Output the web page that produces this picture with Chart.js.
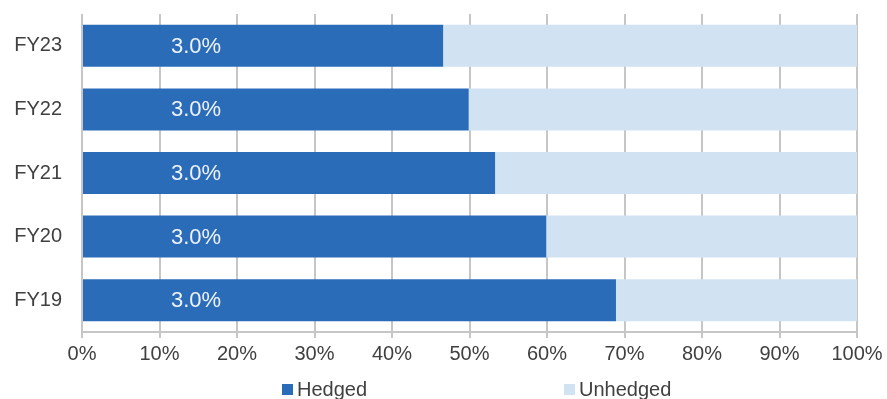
<!DOCTYPE html>
<html>
<head>
<meta charset="utf-8">
<script src="https://cdn.jsdelivr.net/npm/chart.js@4"></script>
<style>
html,body{margin:0;padding:0;background:#fff;}
#wrap{width:887px;height:399px;position:relative;}
</style>
</head>
<body>
<div id="wrap"><canvas id="c" width="887" height="399"></canvas></div>
<script>
const categories = ['FY23', 'FY22', 'FY21', 'FY20', 'FY19'];
const hedged = [46.6, 49.9, 53.3, 59.9, 68.9];
const unhedged = [53.4, 50.1, 46.7, 40.1, 31.1];
const hedgedLabels = ['3.0%', '3.0%', '3.0%', '3.0%', '3.0%'];
const seriesNames = ['Hedged', 'Unhedged'];
const xTicks = [0, 10, 20, 30, 40, 50, 60, 70, 80, 90, 100];

const FONT = "'Liberation Sans', Arial, sans-serif";
const COL_H = '#2b6cb9';
const COL_U = '#d1e2f3';
const TXT = '#404040';

const labelPlugin = {
  id: 'barLabels',
  afterDatasetsDraw(chart) {
    const ctx = chart.ctx;
    const meta = chart.getDatasetMeta(0);
    const xs = chart.scales.x;
    ctx.save();
    ctx.font = '22px ' + FONT;
    ctx.fillStyle = '#eef3fa';
    ctx.textAlign = 'center';
    ctx.textBaseline = 'middle';
    meta.data.forEach((bar, i) => {
      const base = xs.getPixelForValue(0);
      ctx.fillText(hedgedLabels[i], base + 114, bar.y + 1);
    });
    ctx.restore();
  }
};

const legendPlugin = {
  id: 'customLegend',
  afterDraw(chart) {
    const ctx = chart.ctx;
    ctx.save();
    ctx.font = '20px ' + FONT;
    ctx.textBaseline = 'middle';
    ctx.textAlign = 'left';
    const items = [
      {x: 282, color: COL_H, text: seriesNames[0]},
      {x: 564, color: COL_U, text: seriesNames[1]}
    ];
    items.forEach(it => {
      ctx.fillStyle = it.color;
      ctx.fillRect(it.x, 384, 11, 11);
      ctx.fillStyle = TXT;
      ctx.fillText(it.text, it.x + 15, 390);
    });
    ctx.restore();
  }
};

new Chart(document.getElementById('c'), {
  type: 'bar',
  data: {
    labels: categories,
    datasets: [
      {label: seriesNames[0], data: hedged, backgroundColor: COL_H, categoryPercentage: 1, barPercentage: 0.66},
      {label: seriesNames[1], data: unhedged, backgroundColor: COL_U, categoryPercentage: 1, barPercentage: 0.66}
    ]
  },
  options: {
    indexAxis: 'y',
    responsive: false,
    animation: false,
    devicePixelRatio: 1,
    layout: {padding: {top: 14, right: 30, bottom: 0, left: 0}},
    plugins: {legend: {display: false}, tooltip: {enabled: false}},
    scales: {
      x: {
        stacked: true,
        min: 0, max: 100,
        afterBuildTicks(s) { s.ticks = xTicks.map(v => ({value: v})); },
        afterFit(s) { s.height = 67; s.paddingLeft = 0; s.paddingRight = 0; },
        grid: {color: '#c6c6c6', lineWidth: 2, tickLength: 6, drawOnChartArea: true},
        border: {color: '#c6c6c6', width: 2},
        ticks: {color: TXT, font: {family: FONT, size: 20}, padding: 4, maxRotation: 0,
          callback: v => v + '%'}
      },
      y: {
        stacked: true,
        afterFit(s) { s.width = 82; s.paddingTop = 0; s.paddingBottom = 0; },
        grid: {display: false, drawTicks: false},
        border: {display: false},
        ticks: {color: TXT, font: {family: FONT, size: 20}, padding: 20}
      }
    }
  },
  plugins: [labelPlugin, legendPlugin]
});
</script>
</body>
</html>
